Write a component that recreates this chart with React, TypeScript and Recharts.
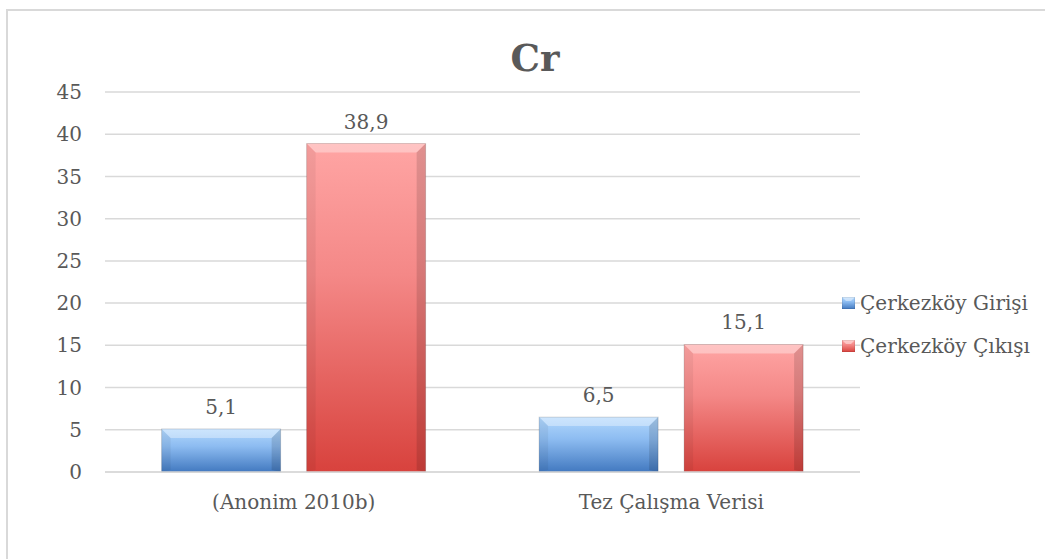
import React from "react";
import { BarChart, Bar, XAxis, YAxis, CartesianGrid, Legend, LabelList } from "recharts";

const categories = ["(Anonim 2010b)", "Tez Çalışma Verisi"];
const girisValues = [5.1, 6.5];
const cikisValues = [38.9, 15.1];
const seriesNames = ["Çerkezköy Girişi", "Çerkezköy Çıkışı"];
const yTicks = [0, 5, 10, 15, 20, 25, 30, 35, 40, 45];

const data = categories.map((name, i) => ({
  name,
  giris: girisValues[i],
  cikis: cikisValues[i],
}));

const FONT = "'DejaVu Serif', serif";
const TEXT = "#595959";

function BevelBar(props: any) {
  const { x, y, width, height, fill } = props;
  if (!height || height <= 0) return null;
  const b = Math.min(9, height / 3, width / 4);
  return (
    <g>
      <rect x={x} y={y} width={width} height={height} fill={fill} />
      <polygon
        points={`${x},${y} ${x + width},${y} ${x + width - b},${y + b} ${x + b},${y + b}`}
        fill="#ffffff"
        fillOpacity={0.35}
      />
      <polygon
        points={`${x},${y} ${x + b},${y + b} ${x + b},${y + height - 2} ${x},${y + height}`}
        fill="#000000"
        fillOpacity={0.05}
      />
      <polygon
        points={`${x + width},${y} ${x + width - b},${y + b} ${x + width - b},${y + height - 2} ${x + width},${y + height}`}
        fill="#000000"
        fillOpacity={0.12}
      />
      <rect x={x} y={y} width={width} height={height} fill="none" stroke="#000" strokeOpacity={0.15} />
    </g>
  );
}

const fmt = (v: any) => String(v).replace(".", ",");

function LegendContent() {
  const items = [
    { label: seriesNames[0], grad: "url(#blueGrad)" },
    { label: seriesNames[1], grad: "url(#redGrad)" },
  ];
  return (
    <div style={{ fontFamily: FONT, fontSize: 20, color: TEXT }}>
      {items.map((it, i) => (
        <div key={i} style={{ display: "flex", alignItems: "center", height: 43, whiteSpace: "nowrap" }}>
          <svg width={13} height={12} style={{ marginRight: 5 }}>
            <rect x={0} y={0} width={13} height={12} fill={it.grad} />
            <polygon points="0,0 13,0 9,4 4,4" fill="#fff" fillOpacity={0.45} />
            <rect x={0} y={0} width={13} height={12} fill="none" stroke="#000" strokeOpacity={0.15} />
          </svg>
          <span>{it.label}</span>
        </div>
      ))}
    </div>
  );
}

export default function App() {
  return (
    <div style={{ position: "fixed", left: 0, top: 0, width: 1045, height: 559, overflow: "hidden", background: "#fff" }}>
      <div
        style={{
          position: "absolute",
          left: 6,
          top: 9,
          width: 1100,
          height: 600,
          border: "2px solid #d9d9d9",
        }}
      />
      <div
        style={{
          position: "absolute",
          left: 435,
          top: 40,
          width: 200,
          textAlign: "center",
          fontFamily: FONT,
          fontWeight: "bold",
          fontSize: 37,
          lineHeight: "36px",
          color: TEXT,
        }}
      >
        Cr
      </div>
      <div style={{ position: "absolute", left: 0, top: 0 }}>
        <BarChart
          width={1045}
          height={559}
          data={data}
          margin={{ top: 92, right: 185, bottom: 0, left: 0 }}
          barCategoryGap="15%"
          barGap={26}
        >
          <defs>
            <linearGradient id="blueGrad" x1="0" y1="0" x2="0" y2="1">
              <stop offset="0%" stopColor="#b2d8fd" />
              <stop offset="40%" stopColor="#8dbcf1" />
              <stop offset="100%" stopColor="#4279c0" />
            </linearGradient>
            <linearGradient id="redGrad" x1="0" y1="0" x2="0" y2="1">
              <stop offset="0%" stopColor="#ffa5a4" />
              <stop offset="40%" stopColor="#f48887" />
              <stop offset="100%" stopColor="#d8423d" />
            </linearGradient>
          </defs>
          <CartesianGrid vertical={false} stroke="#d9d9d9" strokeWidth={1.5} />
          <XAxis
            dataKey="name"
            axisLine={{ stroke: "#d9d9d9", strokeWidth: 1.5 }}
            tickLine={false}
            height={87}
            tickMargin={17}
            tick={{ fontFamily: FONT, fontSize: 20, fill: TEXT }}
          />
          <YAxis
            domain={[0, 45]}
            ticks={yTicks}
            interval={0}
            width={105}
            axisLine={false}
            tickLine={false}
            tickMargin={17}
            tick={{ fontFamily: FONT, fontSize: 20, fill: TEXT }}
          />
          <Bar dataKey="giris" name={seriesNames[0]} fill="url(#blueGrad)" shape={<BevelBar />} isAnimationActive={false}>
            <LabelList dataKey="giris" position="top" offset={15} formatter={fmt} style={{ fontFamily: FONT, fontSize: 20, fill: TEXT }} />
          </Bar>
          <Bar dataKey="cikis" name={seriesNames[1]} fill="url(#redGrad)" shape={<BevelBar />} isAnimationActive={false}>
            <LabelList dataKey="cikis" position="top" offset={15} formatter={fmt} style={{ fontFamily: FONT, fontSize: 20, fill: TEXT }} />
          </Bar>
          <Legend
            layout="vertical"
            align="center"
            verticalAlign="middle"
            content={<LegendContent />}
            wrapperStyle={{ left: 842, top: 281, width: 200 }}
          />
        </BarChart>
      </div>
    </div>
  );
}
